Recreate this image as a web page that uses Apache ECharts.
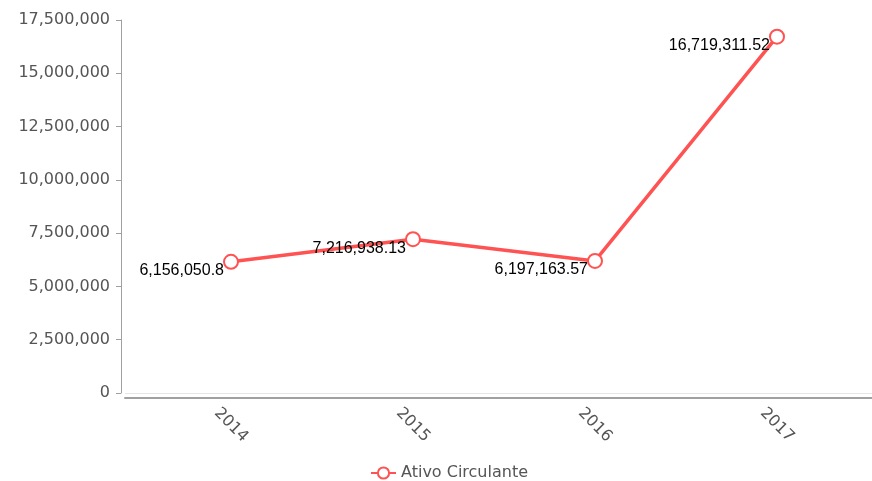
<!DOCTYPE html>
<html>
<head>
<meta charset="utf-8">
<script src="https://cdn.jsdelivr.net/npm/echarts@6/dist/echarts.min.js"></script>
<style>
  html, body { margin: 0; padding: 0; background: #fff; }
  #chart { width: 872px; height: 481px; }
</style>
</head>
<body>
<div id="chart"></div>
<script>
// Yearly current assets
const categories = ['2014', '2015', '2016', '2017'];
const ativoCirculante = [6156050.8, 7216938.13, 6197163.57, 16719311.52];
const seriesName = 'Ativo Circulante';
const yTicks = [0, 2500000, 5000000, 7500000, 10000000, 12500000, 15000000, 17500000];

const fmt = v => Number(v).toLocaleString('en-US', { maximumFractionDigits: 2 });
const years = categories.map(Number);
const red = '#ff5252';

const chart = echarts.init(document.getElementById('chart'), null, { renderer: 'canvas' });
chart.setOption({
  animation: false,
  backgroundColor: '#ffffff',
  grid: { left: 125, right: 0, top: 20, bottom: 88 },
  xAxis: {
    type: 'value',
    min: 2013.4176,
    max: 2017.522,
    offset: 5,
    axisLine: { show: true, onZero: false, lineStyle: { color: '#a0a0a0', width: 2 } },
    axisTick: { show: false },
    splitLine: { show: false },
    axisLabel: {
      customValues: years,
      formatter: v => String(v),
      rotate: -45,
      align: 'center',
      verticalAlign: 'middle',
      margin: 27,
      color: '#555',
      fontSize: 16,
      fontFamily: 'DejaVu Sans'
    }
  },
  yAxis: {
    type: 'value',
    min: yTicks[0],
    max: yTicks[yTicks.length - 1],
    interval: 2500000,
    offset: 4,
    axisLine: { show: true, lineStyle: { color: '#a0a0a0', width: 1 } },
    axisTick: { show: true, length: 5, lineStyle: { color: '#a0a0a0' } },
    splitLine: { show: false },
    axisLabel: {
      formatter: v => fmt(v),
      margin: 11,
      color: '#555',
      fontSize: 16,
      fontFamily: 'DejaVu Sans'
    }
  },
  legend: {
    top: 460,
    left: 365,
    itemWidth: 25,
    itemHeight: 14,
    itemGap: 5,
    textStyle: { color: '#555', fontSize: 16, fontFamily: 'DejaVu Sans' },
    data: [seriesName]
  },
  series: [{
    name: seriesName,
    type: 'line',
    data: years.map((y, i) => [y, ativoCirculante[i]]),
    color: red,
    symbol: 'emptyCircle',
    symbolSize: 14,
    itemStyle: { color: red, borderColor: red, borderWidth: 2.5 },
    lineStyle: { color: red, width: 3.5 },
    label: {
      show: true,
      position: 'left',
      distance: 1,
      offset: [2, 9],
      color: '#000',
      fontSize: 16,
      fontFamily: 'Liberation Sans',
      formatter: p => fmt(p.value[1])
    },
    markLine: {
      silent: true,
      symbol: 'none',
      label: { show: false },
      lineStyle: { color: '#e6e6e6', type: 'solid', width: 1 },
      data: [{ yAxis: 0 }]
    }
  }]
});
</script>
</body>
</html>
